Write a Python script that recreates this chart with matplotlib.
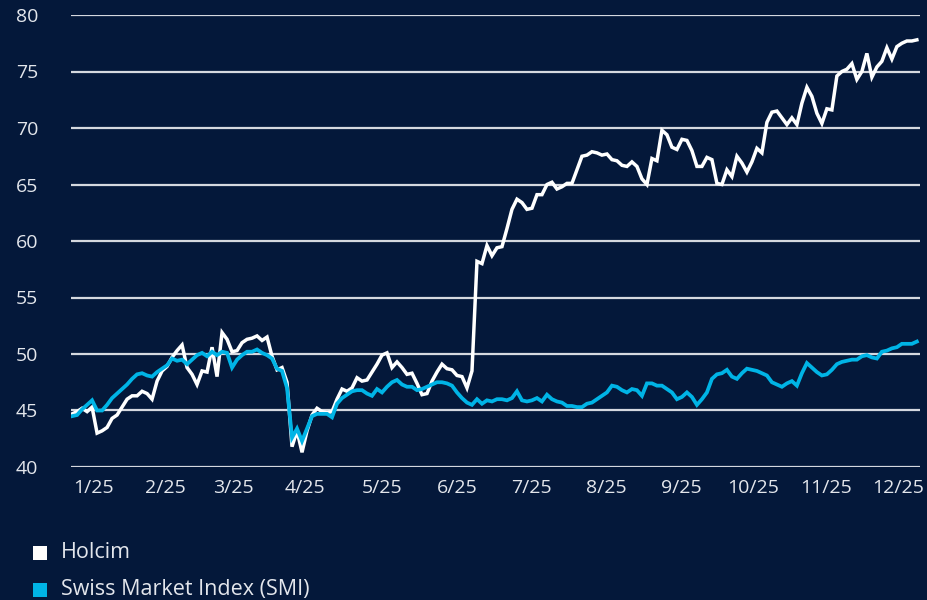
import numpy as np
import matplotlib
matplotlib.use("Agg")
import matplotlib.pyplot as plt
from matplotlib.patches import Rectangle

# ---- data (share prices / rebased index, sampled evenly over the year) ----
holcim = [
    44.7, 44.9, 45.2, 44.9, 45.3, 43.0, 43.2, 43.5, 44.3, 44.6,
    45.3, 46.0, 46.3, 46.3, 46.7, 46.5, 46.0, 47.6, 48.5, 48.9,
    49.7, 50.3, 50.8, 48.8, 48.2, 47.3, 48.5, 48.4, 50.6, 48.0,
    51.9, 51.3, 50.2, 50.3, 51.0, 51.3, 51.4, 51.6, 51.2, 51.5,
    49.8, 48.6, 48.8, 47.5, 41.8, 43.2, 41.3, 43.2, 44.6, 45.2,
    44.9, 44.8, 44.9, 46.0, 46.9, 46.7, 47.0, 47.9, 47.6, 47.7,
    48.4, 49.1, 49.9, 50.1, 48.8, 49.3, 48.8, 48.2, 48.3, 47.4,
    46.4, 46.5, 47.6, 48.4, 49.1, 48.7, 48.6, 48.1, 48.0, 47.0,
    48.5, 58.2, 58.0, 59.6, 58.7, 59.4, 59.5, 61.1, 62.8, 63.7,
    63.4, 62.8, 62.9, 64.1, 64.1, 65.0, 65.2, 64.6, 64.8, 65.1,
    65.1, 66.3, 67.5, 67.6, 67.9, 67.8, 67.6, 67.7, 67.2, 67.1,
    66.7, 66.6, 67.0, 66.6, 65.5, 65.0, 67.3, 67.1, 69.8, 69.4,
    68.3, 68.1, 69.0, 68.9, 68.0, 66.6, 66.6, 67.4, 67.2, 65.1,
    65.0, 66.3, 65.7, 67.5, 66.9, 66.1, 67.0, 68.2, 67.8, 70.5,
    71.4, 71.5, 70.9, 70.3, 70.9, 70.3, 72.2, 73.6, 72.8, 71.3,
    70.4, 71.7, 71.6, 74.6, 75.0, 75.2, 75.7, 74.3, 75.0, 76.6,
    74.5, 75.4, 75.9, 77.1, 76.1, 77.2, 77.5, 77.7, 77.7, 77.8,
]
smi = [
    44.5, 44.6, 45.1, 45.5, 45.9, 45.0, 45.0, 45.5, 46.1, 46.5,
    46.9, 47.3, 47.8, 48.2, 48.3, 48.1, 48.0, 48.4, 48.7, 49.0,
    49.6, 49.4, 49.5, 49.1, 49.5, 49.9, 50.1, 49.8, 50.2, 49.9,
    50.2, 50.1, 48.8, 49.5, 49.9, 50.2, 50.2, 50.4, 50.1, 49.9,
    49.6, 48.7, 48.5, 47.0, 42.6, 43.4, 42.3, 43.4, 44.5, 44.7,
    44.7, 44.7, 44.4, 45.6, 46.1, 46.4, 46.7, 46.8, 46.8, 46.5,
    46.3, 46.9, 46.6, 47.1, 47.5, 47.7, 47.3, 47.1, 47.1, 46.8,
    46.9, 47.1, 47.3, 47.5, 47.5, 47.4, 47.2, 46.6, 46.1, 45.7,
    45.5, 46.0, 45.6, 45.9, 45.8, 46.0, 46.0, 45.9, 46.1, 46.7,
    45.9, 45.8, 45.9, 46.1, 45.8, 46.4, 46.0, 45.8, 45.7, 45.4,
    45.4, 45.3, 45.3, 45.6, 45.7, 46.0, 46.3, 46.6, 47.2, 47.1,
    46.8, 46.6, 46.9, 46.8, 46.3, 47.4, 47.4, 47.2, 47.2, 46.9,
    46.6, 46.0, 46.2, 46.6, 46.2, 45.5, 46.0, 46.6, 47.8, 48.2,
    48.3, 48.6, 48.0, 47.8, 48.3, 48.7, 48.6, 48.5, 48.3, 48.1,
    47.5, 47.3, 47.1, 47.4, 47.6, 47.2, 48.3, 49.2, 48.8, 48.4,
    48.1, 48.2, 48.6, 49.1, 49.3, 49.4, 49.5, 49.5, 49.8, 49.9,
    49.7, 49.6, 50.2, 50.3, 50.5, 50.6, 50.9, 50.9, 50.9, 51.1,
]
month_labels = ["1/25", "2/25", "3/25", "4/25", "5/25", "6/25",
                "7/25", "8/25", "9/25", "10/25", "11/25", "12/25"]
y_ticks = [40, 45, 50, 55, 60, 65, 70, 75, 80]
series_names = ["Holcim", "Swiss Market Index (SMI)"]

# ---- layout / style ----
BG = "#04183A"
WHITE = "#FFFFFF"
BLUE = "#00B4E6"
GRID = "#D5D8DF"
TXT = "#E3E6EC"

plt.rcParams["font.family"] = ["Open Sans", "DejaVu Sans"]

# day-of-year positions of the samples (first trading day ... last)
days = np.linspace(6.2, 356.8, len(holcim))
# mid-month tick positions (day of year)
tick_days = [15, 45, 73, 103, 135, 166, 197, 228, 259, 289, 319, 349]

fig = plt.figure(figsize=(9.28, 6.0), dpi=100, facecolor=BG)
ax = fig.add_axes([71 / 928, 1 - 467 / 600, 849 / 928, 452 / 600])
ax.set_facecolor(BG)

ax.set_ylim(40, 80)
ax.set_xlim(days[0] - 0.45, days[-1] + 1.3)
ax.set_yticks(y_ticks)
for yv in y_ticks:
    ax.axhline(yv, color=GRID, lw=1.6, zorder=1)

ax.plot(days, holcim, color=WHITE, lw=2.5, zorder=3, solid_joinstyle="miter")
ax.plot(days, smi, color=BLUE, lw=2.7, zorder=4, solid_joinstyle="miter")

for s in ax.spines.values():
    s.set_visible(False)
ax.set_xticks(tick_days)
ax.set_xticklabels(month_labels)
ax.tick_params(axis="both", length=0, colors=TXT, labelsize=14)
ax.tick_params(axis="y", pad=23.5)
ax.tick_params(axis="x", pad=8.5)

# legend (manual, bottom-left)
legend_colors = [WHITE, BLUE]
for i, (name, col) in enumerate(zip(series_names, legend_colors)):
    yc = 553 + 37 * i
    fig.add_artist(Rectangle((33 / 928, 1 - (yc + 7) / 600), 14 / 928, 14 / 600,
                             transform=fig.transFigure, facecolor=col,
                             edgecolor="none"))
    fig.text(61 / 928, 1 - yc / 600, name, color=TXT, fontsize=15.5,
             va="center", ha="left")

fig.savefig("out.png", dpi=100, facecolor=BG)
